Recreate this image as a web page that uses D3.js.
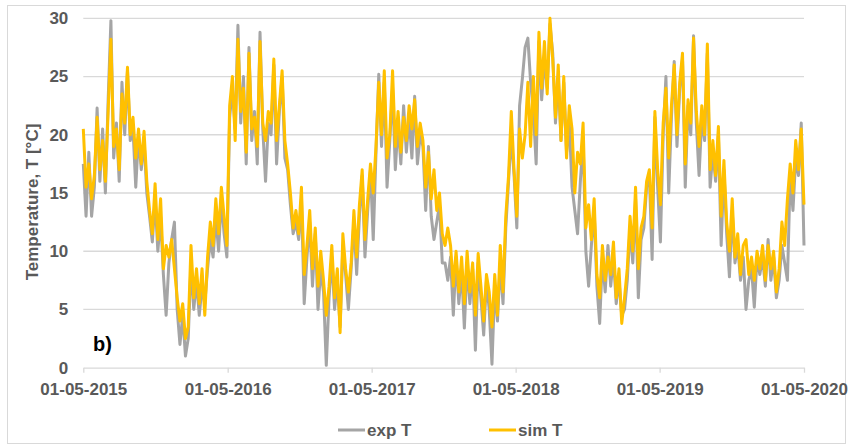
<!DOCTYPE html>
<html>
<head>
<meta charset="utf-8">
<style>
    body { margin: 0; background: #fff; }
    svg text { font-family: "Liberation Sans", Arial, sans-serif; }
</style>
<script src="https://cdn.jsdelivr.net/npm/d3@7"></script>
</head>
<body>
<div id="graph"></div>
<script>
"use strict";

// weekly samples, first one on 01-05-2015
const startDate = "01-05-2015";
const stepDays = 7;
const tickLabels = ["01-05-2015", "01-05-2016", "01-05-2017", "01-05-2018", "01-05-2019", "01-05-2020"];
const yTicks = [0, 5, 10, 15, 20, 25, 30];
const seriesNames = ["exp T", "sim T"];

const expT = [
    17.5, 13.0, 18.5, 13.0, 15.5, 22.3, 16.0, 20.5, 15.0, 23.0,
    29.8, 18.0, 21.0, 16.0, 24.5, 20.0, 25.5, 19.5, 20.5, 15.5,
    20.0, 17.0, 19.5, 15.0, 13.0, 10.8, 14.5, 10.0, 13.0, 8.0,
    4.5, 9.0, 11.0, 12.5, 5.0, 2.0, 4.5, 1.0, 2.5, 9.0,
    5.0, 7.5, 4.5, 7.0, 5.5, 8.5, 11.0, 9.5, 13.0, 10.0,
    14.5, 11.5, 9.5, 21.5, 24.0, 20.5, 29.4, 21.0, 25.0, 17.5,
    27.5, 19.5, 22.0, 17.5, 28.8, 20.5, 16.0, 21.0, 20.0, 26.0,
    17.5, 22.0, 25.0, 18.0, 17.0, 14.0, 11.5, 12.5, 11.0, 14.5,
    5.5, 9.5, 12.5, 7.0, 11.5, 5.0, 8.5, 6.5, 0.2, 6.0,
    9.5, 5.0, 7.5, 3.5, 10.5, 8.0, 5.0, 8.5, 12.5, 8.0,
    13.0, 16.5, 9.5, 13.5, 17.0, 11.0, 18.5, 25.2, 19.0, 24.5,
    15.5, 19.5, 24.0, 17.0, 21.0, 17.5, 22.5, 18.5, 21.5, 18.0,
    23.3, 17.5, 20.0, 19.0, 13.5, 19.0, 13.0, 11.0, 12.5, 14.0,
    9.0, 9.0, 7.5, 9.5, 4.5, 9.5, 5.5, 8.5, 3.4, 9.0,
    5.5, 8.5, 1.5, 9.0, 6.0, 2.8, 7.5, 5.0, 0.3, 7.0,
    4.0, 9.0, 5.5, 12.0, 16.0, 20.0, 16.5, 12.0, 22.5, 24.8,
    27.5, 28.3, 24.5, 22.0, 17.5, 28.0, 23.0, 26.5, 24.0, 29.5,
    27.0, 21.0, 25.0, 19.5, 24.5, 18.5, 21.0, 15.5, 13.5, 11.5,
    16.0, 19.5, 10.0, 7.0, 10.5, 13.5, 7.0, 3.8, 9.5, 6.5,
    10.5, 7.0, 9.5, 5.5, 7.5, 4.5, 5.0, 7.5, 12.0, 9.0,
    14.5, 6.0, 11.0, 12.0, 15.5, 16.5, 9.3, 21.5, 15.5, 10.8,
    20.0, 25.0, 15.0, 21.5, 26.3, 19.0, 24.0, 26.5, 15.5, 22.5,
    20.0, 28.5, 21.0, 16.5, 21.5, 19.5, 27.0, 15.5, 18.5, 16.0,
    20.0, 10.5, 17.0, 11.5, 7.8, 13.5, 9.0, 10.5, 7.5, 9.5,
    5.0, 7.5, 8.5, 5.2, 9.5, 8.0, 9.5, 7.0, 11.0, 7.5,
    9.5, 6.0, 7.5, 10.5, 9.0, 7.5, 16.5, 13.5, 18.0, 16.5,
    21.0, 10.5
];

const simT = [
    20.5, 15.5, 17.5, 14.5, 16.5, 21.5, 17.0, 19.5, 16.0, 22.0,
    28.2, 19.0, 20.5, 17.0, 23.5, 21.0, 25.8, 20.0, 21.5, 18.0,
    20.5, 17.5, 20.3, 16.0, 13.5, 11.5, 15.8, 11.0, 14.5, 8.5,
    10.5, 9.5, 11.0, 8.5, 6.0, 4.0, 5.5, 2.5, 3.5, 10.5,
    6.0, 8.5, 5.5, 8.5, 4.5, 9.5, 12.5, 10.5, 14.5, 11.5,
    15.5, 13.0, 10.5, 22.5, 25.0, 19.5, 28.2, 22.0, 24.0, 18.5,
    27.0, 20.5, 21.5, 19.0, 28.0, 21.0, 19.5, 22.0, 21.0, 26.5,
    19.5, 22.5, 25.5, 19.5, 17.5, 15.0, 12.0, 13.5, 11.5, 15.5,
    8.0, 10.5, 13.5, 8.5, 12.0, 7.0, 10.0, 7.5, 4.5, 7.0,
    10.5, 6.0, 8.5, 3.0, 11.5, 8.5, 6.5, 9.0, 13.5, 9.5,
    14.0, 17.0, 11.0, 14.5, 17.5, 15.0, 19.0, 24.5, 20.0, 25.5,
    18.0, 20.0, 25.5, 19.0, 22.0, 18.5, 21.5, 19.5, 22.5, 20.5,
    23.0, 19.0, 21.0, 19.5, 15.5, 18.5, 14.5, 17.0, 13.5, 15.0,
    11.5, 10.5, 12.0, 10.5, 7.0, 10.0, 6.5, 9.5, 5.5, 10.0,
    6.5, 9.0, 4.5, 9.8, 7.0, 4.0, 8.0, 6.5, 3.5, 8.0,
    4.5, 10.5, 6.5, 13.0, 16.5, 22.0, 17.0, 13.0, 20.5, 18.0,
    20.0, 24.5, 19.0, 25.0, 20.0, 28.8, 24.0, 28.0, 23.5, 30.0,
    26.5, 21.5, 26.0, 19.5, 25.0, 18.0, 22.5, 20.5, 15.0, 18.5,
    17.5, 21.0, 12.0, 14.0, 11.0, 14.5, 8.0, 6.0, 10.5, 7.5,
    9.5, 8.0, 10.8, 6.0, 8.5, 3.8, 6.0, 8.5, 13.0, 10.0,
    15.5, 8.5, 12.0, 13.0, 16.0, 17.0, 12.0, 22.0, 17.0, 14.0,
    21.0, 24.0, 18.0, 22.5, 26.0, 20.0, 24.5, 27.0, 17.5, 23.0,
    21.0, 28.3, 22.0, 19.0, 22.5, 20.0, 27.8, 17.0, 19.5, 16.5,
    20.7, 13.0, 17.8, 12.5, 10.0, 14.5, 9.5, 11.5, 8.0, 10.5,
    11.0, 8.0, 9.5, 7.5, 10.0, 8.5, 10.5, 7.5, 10.5, 8.5,
    10.0, 6.5, 8.5, 12.5, 10.5, 14.5, 17.5, 15.0, 19.5, 17.0,
    20.5, 14.0
];

(function() {
    const svgSize = {
        width : 850,
        height: 448,
    };
    const plot = { left: 83.3, right: 804, top: 18.3, bottom: 367.7 };
    const colors = ["#a5a5a5", "#ffc000"];
    const textColor = "#595959";
    const gridColor = "#d9d9d9";

    window.addEventListener("load", init);

    function init() {
        let svg = d3.select("#graph")
                    .append("svg")
                        .attr("width", svgSize.width)
                        .attr("height", svgSize.height);

        // chart border
        svg.append("rect")
            .attr("x", 7.5).attr("y", 5.5)
            .attr("width", 838).attr("height", 438)
            .attr("fill", "none")
            .attr("stroke", gridColor);

        let parse = d3.utcParse("%d-%m-%Y");
        let fmt = d3.utcFormat("%d-%m-%Y");
        let t0 = parse(startDate);
        let dates = simT.map((d, i) => d3.utcDay.offset(t0, i * stepDays));
        let tickDates = tickLabels.map(parse);

        let x = d3.scaleUtc()
                    .domain([tickDates[0], tickDates[tickDates.length - 1]])
                    .range([plot.left, plot.right]);
        let y = d3.scaleLinear()
                    .domain([yTicks[0], yTicks[yTicks.length - 1]])
                    .range([plot.bottom, plot.top]);

        // horizontal gridlines
        svg.append("g")
            .selectAll("line")
            .data(yTicks.slice(1))
            .enter()
            .append("line")
                .attr("x1", plot.left).attr("x2", plot.right)
                .attr("y1", d => y(d)).attr("y2", d => y(d))
                .attr("stroke", gridColor)
                .attr("stroke-width", 1.3);

        // x axis
        let xAxis = svg.append("g")
            .attr("transform", "translate(0," + plot.bottom + ")")
            .call(d3.axisBottom(x)
                    .tickValues(tickDates)
                    .tickFormat(fmt)
                    .tickSize(5)
                    .tickSizeOuter(0)
                    .tickPadding(10));
        xAxis.select(".domain").attr("stroke", gridColor).attr("stroke-width", 1.3);
        xAxis.selectAll(".tick line").attr("stroke", gridColor).attr("stroke-width", 1.3);
        xAxis.selectAll("text")
            .attr("fill", textColor)
            .attr("font-size", 17)
            .attr("font-weight", "bold")
            .style("font-family", "'Liberation Sans', Arial, sans-serif");

        // y axis
        let yAxis = svg.append("g")
            .attr("transform", "translate(" + plot.left + ",0)")
            .call(d3.axisLeft(y)
                    .tickValues(yTicks)
                    .tickSize(0)
                    .tickPadding(15));
        yAxis.select(".domain").remove();
        yAxis.selectAll("text")
            .attr("fill", textColor)
            .attr("font-size", 17)
            .attr("font-weight", "bold")
            .style("font-family", "'Liberation Sans', Arial, sans-serif");

        svg.append("text")
            .attr("transform", "translate(38,202) rotate(-90)")
            .attr("text-anchor", "middle")
            .attr("fill", textColor)
            .attr("font-size", 17)
            .attr("font-weight", "bold")
            .text("Temperature, T [°C]");

        // series
        let line = d3.line()
                    .x((d, i) => x(dates[i]))
                    .y(d => y(d));

        [expT, simT].forEach((series, k) => {
            svg.append("path")
                .datum(series)
                .attr("d", line)
                .attr("fill", "none")
                .attr("stroke", colors[k])
                .attr("stroke-width", 3)
                .attr("stroke-linejoin", "round");
        });

        svg.append("text")
            .attr("x", 93).attr("y", 351)
            .attr("font-size", 20)
            .attr("font-weight", "bold")
            .attr("fill", "#000")
            .text("b)");

        // legend
        let legendX = [338, 489];
        let legend = svg.append("g")
            .selectAll("g")
            .data(seriesNames)
            .enter()
            .append("g")
                .attr("transform", (d, i) => "translate(" + legendX[i] + ",430)");
        legend.append("line")
            .attr("x1", 0).attr("x2", 27)
            .attr("stroke", (d, i) => colors[i])
            .attr("stroke-width", 3);
        legend.append("text")
            .attr("x", 29).attr("y", 6)
            .attr("fill", textColor)
            .attr("font-size", 17)
            .attr("font-weight", "bold")
            .text(d => d);
    }
})();
</script>
</body>
</html>
